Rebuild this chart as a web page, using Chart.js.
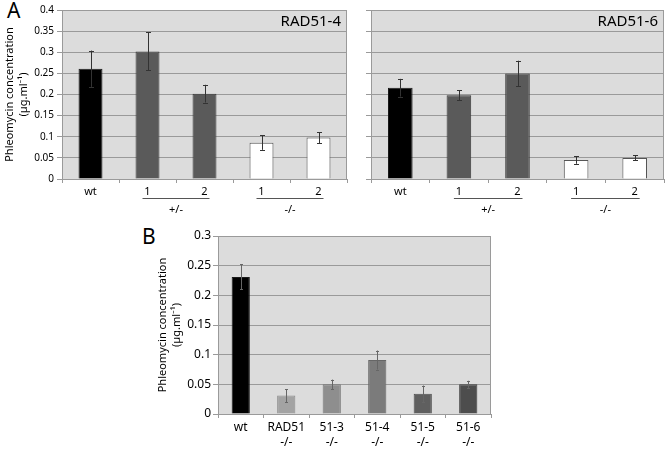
<!DOCTYPE html>
<html>
<head>
<meta charset="utf-8">
<script src="https://cdn.jsdelivr.net/npm/chart.js@4.4.1/dist/chart.umd.min.js"></script>
<style>
  body { margin: 0; background: #fff; width: 666px; height: 450px; position: relative; overflow: hidden; font-family: "Noto Sans", sans-serif; }
  .box { position: absolute; }
  .panel-letter { position: absolute; font-size: 21px; line-height: 1; color: #000; }
</style>
</head>
<body>
<div class="panel-letter" style="left:7px; top:0px;">A</div>
<div class="panel-letter" style="left:142px; top:226px;">B</div>
<div class="box" style="left:0; top:0; width:349px; height:222px;"><canvas id="chartA1"></canvas></div>
<div class="box" style="left:349px; top:0; width:317px; height:222px;"><canvas id="chartA2"></canvas></div>
<div class="box" style="left:150px; top:226px; width:345px; height:224px;"><canvas id="chartB"></canvas></div>
<script>
// Datos
const labelsA = ["wt", "1", "2", "1", "2"];
const groupsA = [
  { label: "+/-", from: 1, to: 2 },
  { label: "-/-", from: 3, to: 4 },
];
const rad51_4 = [0.261, 0.302, 0.202, 0.086, 0.098];
const rad51_4Err = [0.043, 0.045, 0.021, 0.017, 0.013];
const rad51_6 = [0.216, 0.198, 0.25, 0.045, 0.05];
const rad51_6Err = [0.021, 0.012, 0.03, 0.009, 0.006];
const colorsA = ["#000000", "#5a5a5a", "#5a5a5a", "#ffffff", "#ffffff"];

const labelsB = [["wt"], ["RAD51", "-/-"], ["51-3", "-/-"], ["51-4", "-/-"], ["51-5", "-/-"], ["51-6", "-/-"]];
const valuesB = [0.231, 0.031, 0.05, 0.091, 0.034, 0.05];
const errorsB = [0.021, 0.011, 0.008, 0.016, 0.014, 0.006];
const colorsB = ["#000000", "#a3a3a3", "#8e8e8e", "#7b7b7b", "#5f5f5f", "#4d4d4d"];

const yTicksA = { min: 0, max: 0.4, step: 0.05 };
const yTicksB = { min: 0, max: 0.3, step: 0.05 };

const yTitle = ["Phleomycin concentration", "(µg.ml⁻¹)"];

Chart.defaults.font.family = "'Noto Sans', sans-serif";
Chart.defaults.color = "#000";

const GRID = "#9a9a9a";
const PLOT_BG = "#dcdcdc";

// plugin: fondo, barras de error, títulos y grupos
const makeExtras = (errors, opts) => ({
  id: "extras",
  beforeDraw(chart) {
    const { ctx, chartArea: a } = chart;
    ctx.save();
    ctx.fillStyle = PLOT_BG;
    ctx.fillRect(a.left, a.top, a.right - a.left, a.bottom - a.top);
    ctx.restore();
  },
  afterDatasetsDraw(chart) {
    const { ctx, chartArea: a } = chart;
    const yScale = chart.scales.y;
    const xScale = chart.scales.x;
    const values = chart.data.datasets[0].data;
    const meta = chart.getDatasetMeta(0);
    ctx.save();
    // borde derecho del área
    ctx.strokeStyle = GRID;
    ctx.lineWidth = 1;
    ctx.beginPath();
    ctx.moveTo(Math.round(a.right) - 0.5, a.top);
    ctx.lineTo(Math.round(a.right) - 0.5, a.bottom);
    ctx.stroke();

    ctx.strokeStyle = opts.errColor;
    meta.data.forEach((bar, i) => {
      const x = Math.round(bar.x) + 0.5;
      const top = yScale.getPixelForValue(values[i] + errors[i]);
      const bottom = yScale.getPixelForValue(values[i] - errors[i]);
      ctx.beginPath();
      ctx.moveTo(x, top);
      ctx.lineTo(x, bottom);
      ctx.moveTo(x - opts.cap, Math.round(top) + 0.5);
      ctx.lineTo(x + opts.cap, Math.round(top) + 0.5);
      ctx.moveTo(x - opts.cap, Math.round(bottom) + 0.5);
      ctx.lineTo(x + opts.cap, Math.round(bottom) + 0.5);
      ctx.stroke();
    });

    if (opts.title) {
      ctx.fillStyle = "#000";
      ctx.font = "15px 'Noto Sans', sans-serif";
      ctx.textAlign = "right";
      ctx.textBaseline = "middle";
      ctx.fillText(opts.title, a.right - 6, a.top + 12);
    }

    (opts.groups || []).forEach((g) => {
      const x1 = xScale.getPixelForValue(g.from);
      const x2 = xScale.getPixelForValue(g.to);
      const y = Math.round(a.bottom + 19) + 0.5;
      ctx.strokeStyle = "#555";
      ctx.beginPath();
      ctx.moveTo(x1 - 5, y);
      ctx.lineTo(x2 + 5, y);
      ctx.stroke();
      ctx.fillStyle = "#000";
      ctx.font = "11px 'Noto Sans', sans-serif";
      ctx.textAlign = "center";
      ctx.textBaseline = "middle";
      ctx.fillText(g.label, (x1 + x2) / 2, a.bottom + 31);
    });
    ctx.restore();
  },
});

const tickFormat = (v) => String(+v.toFixed(2));

const buildChart = (id, cfg) => {
  const ctx = document.getElementById(id).getContext("2d");
  return new Chart(ctx, {
    type: "bar",
    data: {
      labels: cfg.labels,
      datasets: [
        {
          data: cfg.values,
          backgroundColor: cfg.colors,
          borderColor: cfg.borders,
          borderWidth: 1,
          barPercentage: cfg.barPct,
          categoryPercentage: 1,
        },
      ],
    },
    options: {
      responsive: true,
      maintainAspectRatio: false,
      animation: false,
      layout: { padding: cfg.padding },
      plugins: {
        legend: { display: false },
        tooltip: { enabled: false },
      },
      scales: {
        x: {
          afterFit: (scale) => { scale.height = cfg.xHeight; },
          grid: {
            display: true,
            drawOnChartArea: false,
            tickLength: 4,
            color: GRID,
          },
          border: { display: true, color: GRID },
          ticks: {
            font: { size: cfg.xFont, lineHeight: 1.25 },
            padding: 2,
            maxRotation: 0,
            autoSkip: false,
          },
        },
        y: {
          min: cfg.yTicks.min,
          max: cfg.yTicks.max,
          afterFit: (scale) => { scale.width = cfg.yWidth; },
          grid: { color: GRID, tickLength: 5 },
          border: { display: true, color: GRID },
          ticks: {
            display: cfg.showTicks,
            stepSize: cfg.yTicks.step,
            font: { size: cfg.yFont },
            padding: cfg.yPad,
            callback: tickFormat,
          },
          title: {
            display: cfg.showTitle,
            text: yTitle,
            font: { size: 11, lineHeight: 1.27 },
            padding: { top: cfg.titlePad, bottom: 0 },
          },
        },
      },
    },
    plugins: [makeExtras(cfg.errors, cfg.extras)],
  });
};

const bordersA = ["#1a1a1a", "#3a3a3a", "#3a3a3a", "#555555", "#555555"];

buildChart("chartA1", {
  labels: labelsA,
  values: rad51_4,
  errors: rad51_4Err,
  colors: colorsA,
  borders: bordersA,
  barPct: 0.42,
  padding: { top: 10, right: 2, left: 0, bottom: 0 },
  xHeight: 43,
  yWidth: 62,
  xFont: 11,
  yFont: 10,
  yPad: 3,
  yTicks: yTicksA,
  showTicks: true,
  showTitle: true,
  titlePad: 3,
  extras: { errColor: "#333", cap: 2.5, title: "RAD51-4", groups: groupsA },
});

buildChart("chartA2", {
  labels: labelsA,
  values: rad51_6,
  errors: rad51_6Err,
  colors: colorsA,
  borders: bordersA,
  barPct: 0.42,
  padding: { top: 10, right: 2, left: 0, bottom: 0 },
  xHeight: 43,
  yWidth: 22,
  xFont: 11,
  yFont: 10,
  yPad: 3,
  yTicks: yTicksA,
  showTicks: false,
  showTitle: false,
  titlePad: 0,
  extras: { errColor: "#333", cap: 2.5, title: "RAD51-6", groups: groupsA },
});

buildChart("chartB", {
  labels: labelsB,
  values: valuesB,
  errors: errorsB,
  colors: colorsB,
  borders: ["#1a1a1a", "#8a8a8a", "#777777", "#666666", "#4d4d4d", "#3d3d3d"],
  barPct: 0.4,
  padding: { top: 10, right: 4, left: 0, bottom: 0 },
  xHeight: 36,
  yWidth: 68,
  xFont: 12,
  yFont: 12,
  yPad: 2,
  yTicks: yTicksB,
  showTicks: true,
  showTitle: true,
  titlePad: 6,
  extras: { errColor: "#666", cap: 1.5, title: null, groups: [] },
});
</script>
</body>
</html>
